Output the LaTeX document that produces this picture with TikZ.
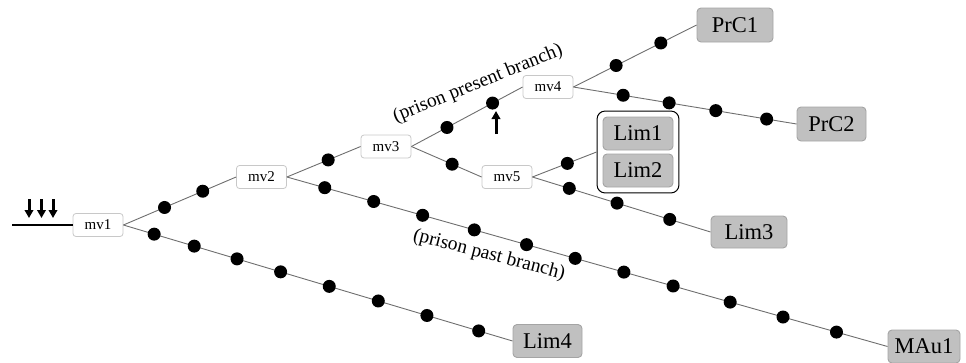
\documentclass[tikz,border=0pt]{standalone}
\usepackage{fontspec}
\setmainfont{Liberation Serif}
\usetikzlibrary{arrows.meta,fit}
\definecolor{linkgray}{HTML}{6E6E6E}
\definecolor{moveedge}{HTML}{C8C8C8}
\definecolor{endfill}{HTML}{C0C0C0}
\definecolor{endedge}{HTML}{A4A4A4}
\tikzset{
  movebox/.style={draw=moveedge, fill=white, rounded corners=3pt, line width=0.8pt,
    minimum width=50pt, minimum height=23pt, inner sep=0pt,
    font=\fontsize{15}{18}\selectfont},
  endbox/.style={draw=endedge, fill=endfill, rounded corners=4pt, line width=0.9pt,
    minimum height=33pt, inner sep=0pt, font=\fontsize{22.5}{26}\selectfont},
  link/.style={draw=linkgray, line width=0.9pt},
  dot/.style={circle, fill=black, inner sep=0pt, minimum size=13pt},
  branchlabel/.style={font=\fontsize{19.5}{23}\selectfont, inner sep=0pt},
  inarrow/.style={line width=3pt, -{Triangle[length=8pt,width=8.5pt]}},
}
\begin{document}
\begin{tikzpicture}[x=1pt, y=-1pt]
\useasboundingbox (0,0) rectangle (966,362);

% move boxes
\node[movebox] (mv1) at (98,225) {mv1};
\node[movebox] (mv2) at (261.5,177) {mv2};
\node[movebox] (mv3) at (386,146.5) {mv3};
\node[movebox] (mv4) at (548,87) {mv4};
\node[movebox] (mv5) at (507,177) {mv5};

% terminal positions
\node[endbox, minimum width=76pt, minimum height=34pt] (prc1) at (735,25) {PrC1};
\node[endbox, minimum width=69pt, minimum height=34pt] (prc2) at (831.5,124) {PrC2};
\node[endbox, minimum width=70pt] (lim1) at (638,133.5) {Lim1};
\node[endbox, minimum width=70pt] (lim2) at (638,170.5) {Lim2};
\node[endbox, minimum width=76pt, minimum height=32pt] (lim3) at (749,232) {Lim3};
\node[endbox, minimum width=69pt] (lim4) at (547.5,341) {Lim4};
\node[endbox, minimum width=72pt] (mau1) at (924,346.5) {MAu1};

% frame grouping Lim1 and Lim2
\node[draw=black, line width=1pt, rounded corners=8pt, inner sep=5.5pt,
      fit=(lim1)(lim2)] (limgroup) {};

% incoming line and arrows
\coordinate (start) at (12,225);
\draw[line width=1.3pt] (start) -- (mv1.west);
\foreach \x [count=\i] in {29,41.5,53} {
  \coordinate (a\i top) at (\x,199);
  \coordinate (a\i tip) at (\x,218);
  \draw[inarrow] (a\i top) -- (a\i tip);
}

% branches with intermediate moves
\draw[link] (mv1.east) -- (mv2.west)
  node[dot,pos=.365] (u1) {} node[dot,pos=.704] (u2) {};
\draw[link] (mv1.east) -- (lim4.west)
  node[dot,pos=.079] (l1) {} node[dot,pos=.182] (l2) {}
  node[dot,pos=.292] (l3) {} node[dot,pos=.404] (l4) {}
  node[dot,pos=.529] (l5) {} node[dot,pos=.655] (l6) {}
  node[dot,pos=.780] (l7) {} node[dot,pos=.913] (l8) {};
\draw[link] (mv2.east) -- (mv3.west)
  node[dot,pos=.56] (v1) {};
\draw[link] (mv2.east) -- (mau1.west)
  node[dot,pos=.063] (p1) {} node[dot,pos=.1445] (p2) {}
  node[dot,pos=.226] (p3) {} node[dot,pos=.312] (p4) {}
  node[dot,pos=.399] (p5) {} node[dot,pos=.480] (p6) {}
  node[dot,pos=.561] (p7) {} node[dot,pos=.643] (p8) {}
  node[dot,pos=.738] (p9) {} node[dot,pos=.826] (p10) {}
  node[dot,pos=.915] (p11) {};
\draw[link] (mv3.east) -- (mv4.west)
  node[dot,pos=.32] (q1) {} node[dot,pos=.73] (q2) {};
\draw[link] (mv3.east) -- (mv5.west)
  node[dot,pos=.58] (r1) {};
\draw[link] (mv4.east) -- (prc1.west)
  node[dot,pos=.347] (s1) {} node[dot,pos=.71] (s2) {};
\draw[link] (mv4.east) -- (prc2.west)
  node[dot,pos=.223] (t1) {} node[dot,pos=.429] (t2) {}
  node[dot,pos=.638] (t3) {} node[dot,pos=.866] (t4) {};
\draw[link] (mv5.east) -- (limgroup.west)
  node[dot,pos=.545] (w1) {};
\draw[link] (mv5.east) -- (lim3.west)
  node[dot,pos=.207] (z1) {} node[dot,pos=.475] (z2) {}
  node[dot,pos=.771] (z3) {};

% marker under the present-branch move
\coordinate (mark foot) at (496,134);
\coordinate (mark tip) at (496,111);
\draw[inarrow] (mark foot) -- (mark tip);

% branch labels
\node[branchlabel, rotate=22] (presentlabel) at (478,84) {(prison present branch)};
\node[branchlabel, rotate=-14.5] (pastlabel) at (489,255) {(prison past branch)};
\end{tikzpicture}
\end{document}
